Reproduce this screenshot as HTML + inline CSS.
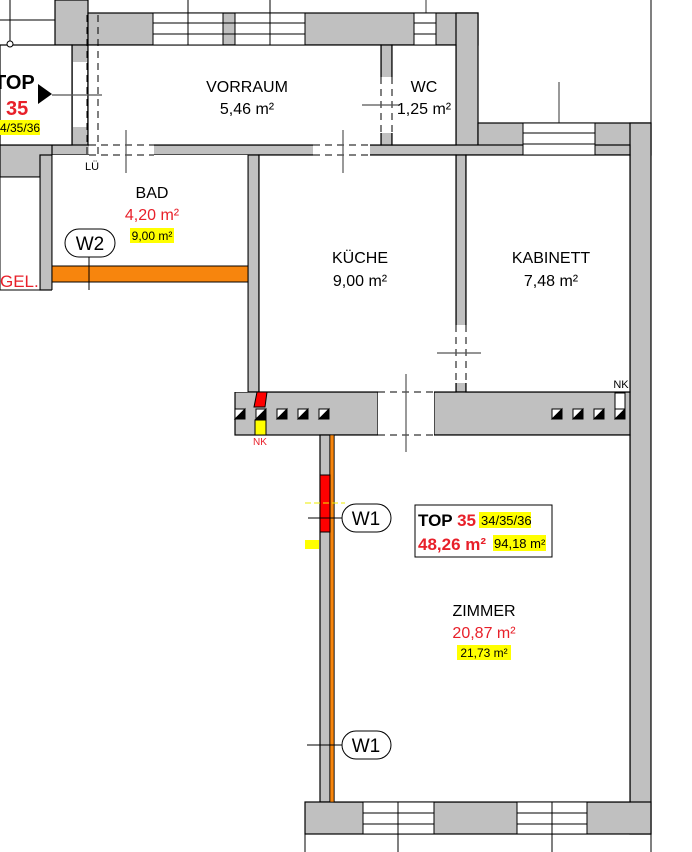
<!DOCTYPE html>
<html><head><style>body{margin:0;background:#fff}svg{display:block}text{font-family:"Liberation Sans",sans-serif}</style></head><body>
<svg width="692" height="852" viewBox="0 0 692 852" xmlns="http://www.w3.org/2000/svg">
<g fill="#c0c0c0" stroke="#000" stroke-width="1.2">
<rect x="55" y="0" width="33" height="45"/>
<rect x="88" y="13" width="390" height="32"/>
<rect x="72" y="45" width="16" height="110"/>
<rect x="456" y="13" width="22" height="142"/>
<rect x="478" y="123" width="173" height="32"/>
<rect x="630" y="123" width="21" height="711"/>
<rect x="0" y="145" width="630" height="10"/>
<rect x="0" y="145" width="52" height="32"/>
<rect x="40" y="155" width="12" height="135"/>
<rect x="248" y="155" width="11" height="237"/>
<rect x="381" y="45" width="11" height="100"/>
<rect x="456" y="155" width="10" height="237"/>
<rect x="235" y="392" width="143" height="43"/>
<rect x="434" y="392" width="196" height="43"/>
<rect x="320" y="435" width="10" height="367"/>
<rect x="305" y="802" width="346" height="32"/>
</g>
<g fill="#fff" stroke="#000" stroke-width="1.2">
<rect x="0" y="45" width="72" height="100"/>
<rect x="88" y="45" width="293" height="100"/>
<rect x="392" y="45" width="64" height="100"/>
<rect x="52" y="155" width="196" height="237" stroke="none"/>
<rect x="259" y="155" width="197" height="237"/>
<rect x="466" y="155" width="164" height="237"/>
<rect x="334" y="435" width="296" height="367"/>
</g>
<rect x="0" y="177" width="40" height="113" fill="#fff" stroke="#000"/>
<line x1="52" y1="155" x2="52" y2="290" stroke="#000"/>
<line x1="248" y1="155" x2="248" y2="392" stroke="#000"/>
<g fill="#fff" stroke="none">
<rect x="89" y="144" width="65" height="12"/><rect x="313" y="144" width="57" height="12"/>
<rect x="380" y="77" width="13" height="56"/><rect x="455" y="325" width="12" height="58"/>
<rect x="378" y="391" width="56" height="45"/><rect x="73" y="62" width="14" height="65"/>
</g>
<g stroke="#000" stroke-dasharray="7,5" fill="none">
<line x1="89" y1="145" x2="154" y2="145"/><line x1="89" y1="155" x2="154" y2="155"/>
<line x1="313" y1="145" x2="370" y2="145"/><line x1="313" y1="155" x2="370" y2="155"/>
<line x1="381" y1="77" x2="381" y2="133"/><line x1="392" y1="77" x2="392" y2="133"/>
<line x1="456" y1="325" x2="456" y2="383"/><line x1="466" y1="325" x2="466" y2="383"/>
<line x1="378" y1="392" x2="434" y2="392"/><line x1="378" y1="435" x2="434" y2="435"/>
<line x1="87" y1="15" x2="87" y2="155"/><line x1="98" y1="15" x2="98" y2="155"/>
</g>
<g stroke="#555" stroke-width="1.2">
<line x1="126" y1="130" x2="126" y2="173"/><line x1="343" y1="130" x2="343" y2="173"/>
<line x1="362" y1="105" x2="400" y2="105"/><line x1="437" y1="353" x2="481" y2="353"/>
<line x1="406" y1="374" x2="406" y2="452"/><line x1="426" y1="0" x2="426" y2="13"/><line x1="559" y1="82" x2="559" y2="155"/>
<line x1="52" y1="95" x2="102" y2="95"/>
</g>
<polygon points="38,84 52,94 38,104" fill="#000"/>
<g fill="#fff" stroke="#000">
<rect x="153" y="13" width="70" height="32"/><rect x="235" y="13" width="70" height="32"/>
<rect x="414" y="13" width="22" height="32"/><rect x="523" y="123" width="72" height="32"/>
<rect x="363" y="802" width="71" height="32"/><rect x="517" y="802" width="70" height="32"/>
</g>
<g stroke="#000">
<line x1="153" y1="23" x2="305" y2="23"/><line x1="153" y1="34" x2="305" y2="34"/><line x1="188" y1="0" x2="188" y2="45"/><line x1="270" y1="0" x2="270" y2="45"/>
<line x1="414" y1="23" x2="436" y2="23"/><line x1="414" y1="34" x2="436" y2="34"/>
<line x1="523" y1="133" x2="595" y2="133"/><line x1="523" y1="144" x2="595" y2="144"/>
<line x1="363" y1="813" x2="434" y2="813"/><line x1="363" y1="824" x2="434" y2="824"/><line x1="398" y1="802" x2="398" y2="852"/>
<line x1="517" y1="813" x2="587" y2="813"/><line x1="517" y1="824" x2="587" y2="824"/><line x1="552" y1="802" x2="552" y2="852"/>
<line x1="10" y1="0" x2="10" y2="44"/><line x1="0" y1="20" x2="55" y2="20"/><line x1="651" y1="0" x2="651" y2="123"/><line x1="651" y1="834" x2="651" y2="852"/><line x1="305" y1="834" x2="305" y2="852"/>
<line x1="305" y1="802" x2="320" y2="802"/>
</g>
<circle cx="10" cy="44" r="3" fill="#fff" stroke="#000"/>
<rect x="52" y="266" width="196" height="16" fill="#f7850d" stroke="#000"/>
<rect x="330" y="435" width="4" height="367" fill="#f7850d" stroke="#000" stroke-width="0.6"/>
<rect x="320" y="475" width="10" height="57" fill="#f00" stroke="#000"/>
<rect x="305" y="540" width="14" height="9" fill="#ff0"/>
<line x1="305" y1="503" x2="345" y2="503" stroke="#ee0" stroke-dasharray="6,3"/>
<polygon points="257,392 267,392 265,407 254,407" fill="#f00" stroke="#000"/>
<rect x="255" y="420" width="11" height="15" fill="#ff0" stroke="#000"/>
<g stroke="#000">
<g fill="#fff">
<rect x="235" y="409" width="10" height="10"/><rect x="256" y="409" width="10" height="10"/><rect x="277" y="409" width="10" height="10"/><rect x="298" y="409" width="10" height="10"/><rect x="319" y="409" width="10" height="10"/>
<rect x="552" y="409" width="10" height="10"/><rect x="573" y="409" width="10" height="10"/><rect x="594" y="409" width="10" height="10"/><rect x="615" y="409" width="10" height="10"/>
<rect x="615" y="393" width="10" height="16"/></g>
<g fill="#000">
<polygon points="245,409 245,419 235,419"/><polygon points="266,409 266,419 256,419"/><polygon points="287,409 287,419 277,419"/><polygon points="308,409 308,419 298,419"/><polygon points="329,409 329,419 319,419"/>
<polygon points="562,409 562,419 552,419"/><polygon points="583,409 583,419 573,419"/><polygon points="604,409 604,419 594,419"/><polygon points="625,409 625,419 615,419"/></g>
</g>
<g stroke="#000" fill="#fff">
<line x1="89" y1="255" x2="89" y2="290"/><rect x="65" y="229" width="50" height="28" rx="14"/>
<line x1="308" y1="518" x2="342" y2="518"/><rect x="342" y="504" width="49" height="28" rx="14"/>
<line x1="307" y1="745" x2="342" y2="745"/><rect x="342" y="731" width="49" height="28" rx="14"/>
</g>
<g font-size="19" text-anchor="middle">
<text x="90" y="250">W2</text><text x="366" y="525">W1</text><text x="366" y="752">W1</text>
</g>
<g text-anchor="middle" font-size="16">
<text x="247" y="92">VORRAUM</text><text x="247" y="114">5,46 m²</text>
<text x="424" y="92">WC</text><text x="424" y="114">1,25 m²</text>
<text x="152" y="198">BAD</text><text x="152" y="220" fill="#e8202a">4,20 m²</text>
<text x="360" y="263">KÜCHE</text><text x="360" y="286">9,00 m²</text>
<text x="551" y="263">KABINETT</text><text x="551" y="286">7,48 m²</text>
<text x="484" y="616">ZIMMER</text><text x="484" y="638" fill="#e8202a">20,87 m²</text>
</g>
<rect x="130" y="228" width="44" height="15" fill="#ff0"/><text x="152" y="240" text-anchor="middle" font-size="12">9,00 m²</text>
<rect x="457" y="645" width="54" height="15" fill="#ff0"/><text x="484" y="657" text-anchor="middle" font-size="12">21,73 m²</text>
<text x="92" y="170" font-size="11" text-anchor="middle">LÜ</text>
<text x="621" y="388" font-size="11" text-anchor="middle">NK</text>
<text x="260" y="445" font-size="10" fill="#e8202a" text-anchor="middle">NK</text>
<text x="0" y="287" font-size="17" fill="#e8202a">GEL.</text>
<text x="-6" y="89" font-size="20" font-weight="bold">TOP</text>
<text x="6" y="115" font-size="20" font-weight="bold" fill="#e8202a">35</text>
<rect x="0" y="120" width="40" height="15" fill="#ff0"/><text x="0" y="132" font-size="12">4/35/36</text>
<rect x="415" y="505" width="137" height="52" fill="#fff" stroke="#000"/>
<text x="418" y="526" font-size="17" font-weight="bold">TOP <tspan fill="#e8202a">35</tspan></text>
<rect x="479" y="512" width="52" height="16" fill="#ff0"/><text x="481" y="525" font-size="13">34/35/36</text>
<text x="418" y="550" font-size="17" font-weight="bold" fill="#e8202a">48,26 m²</text>
<rect x="493" y="535" width="53" height="16" fill="#ff0"/><text x="494" y="548" font-size="13">94,18 m²</text>
</svg>
</body></html>
